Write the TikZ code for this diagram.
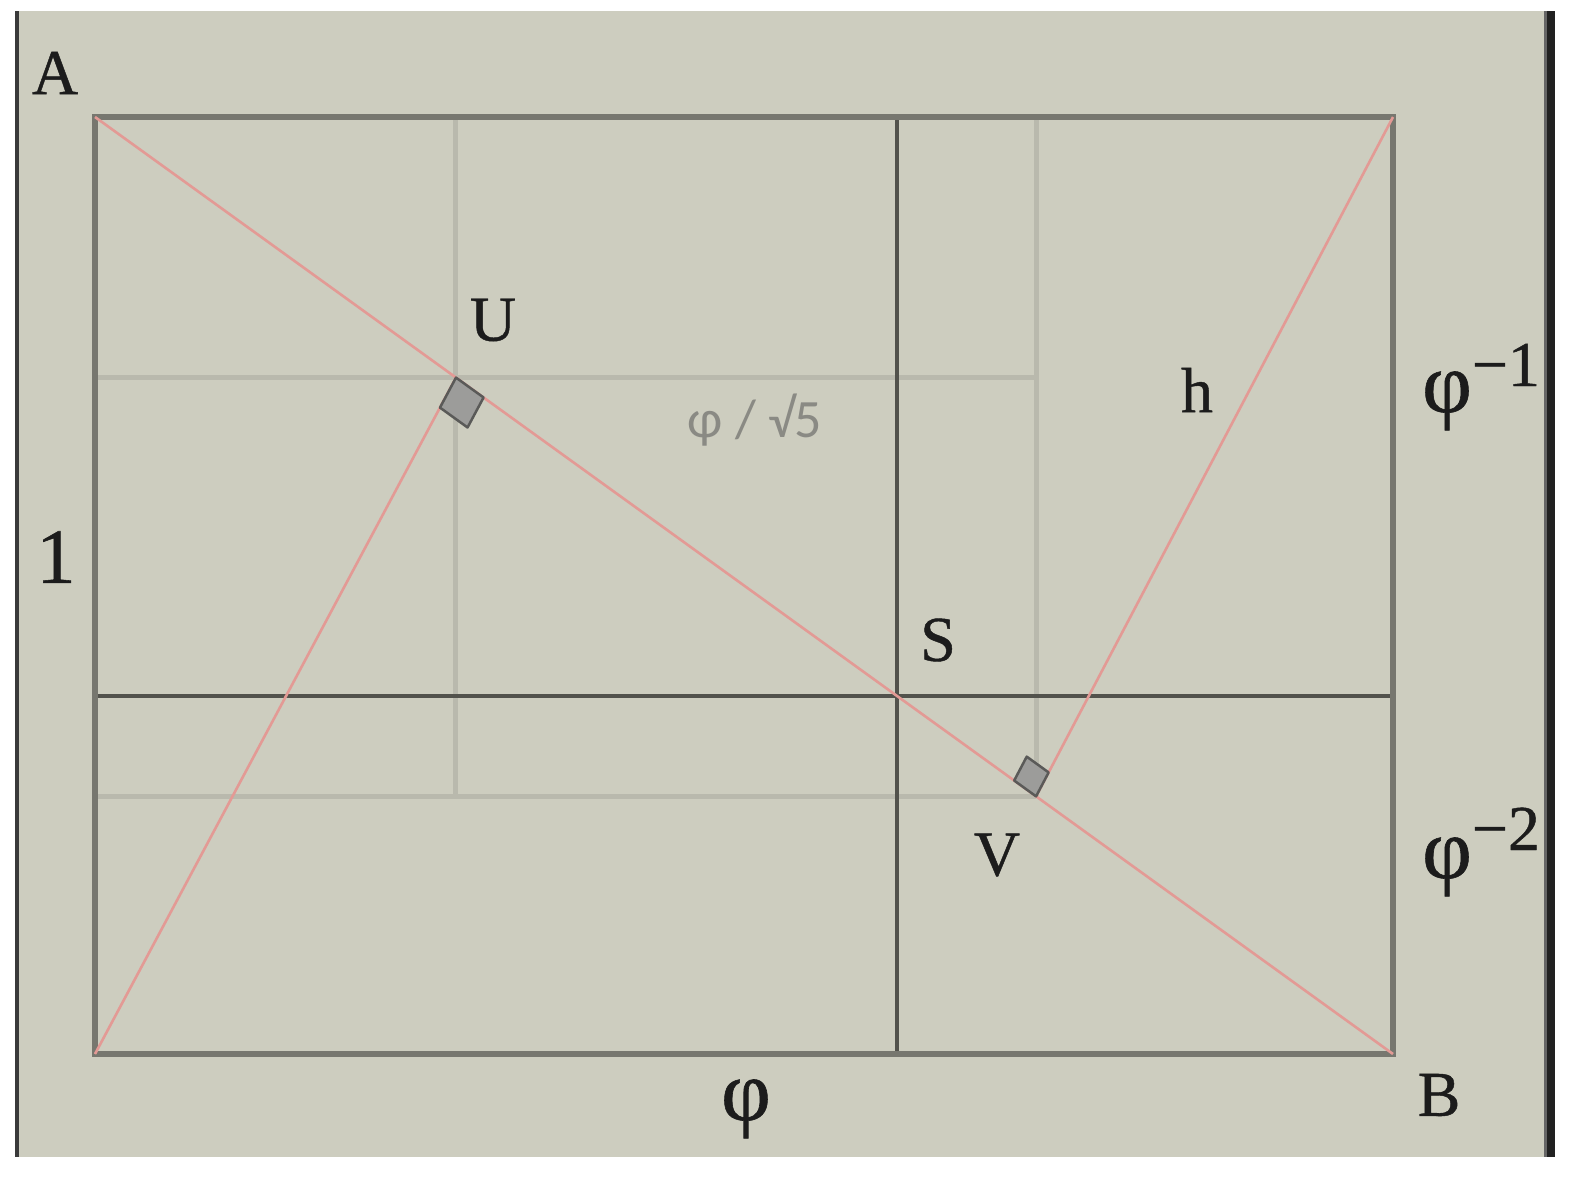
\documentclass[tikz,border=0pt]{standalone}
\usepackage{fontspec}
\setmainfont{Liberation Serif}
\newfontfamily\labfont{Liberation Serif}[FakeBold=0.7]
\newfontfamily\labsans{Carlito}
\usetikzlibrary{calc}
\definecolor{panel}{HTML}{CDCDBF}
\definecolor{frameline}{HTML}{77776F}
\definecolor{darkline}{HTML}{52524C}
\definecolor{lightline}{HTML}{B9B9AD}
\definecolor{redline}{HTML}{E39A95}
\definecolor{sqfill}{HTML}{9C9C9A}
\definecolor{sqdraw}{HTML}{5A5A58}
\definecolor{txt}{HTML}{1C1C1C}
\definecolor{graytxt}{HTML}{8A8A84}
\definecolor{leftborder}{HTML}{3A3A3A}
\tikzset{
  framestyle/.style={draw=frameline, line width=5.5pt},
  crossline/.style={draw=darkline, line width=4pt},
  guideline/.style={draw=lightline, line width=5pt},
  redstyle/.style={draw=redline, line width=2.6pt},
  anglebox/.style={fill=sqfill, draw=sqdraw, line width=2.5pt, line join=round},
  lbl/.style={inner sep=0pt, text=txt, font=\labfont\fontsize{64}{70}\selectfont},
  biglbl/.style={inner sep=0pt, text=txt, font=\labfont\fontsize{78}{84}\selectfont},
  philbl/.style={inner sep=0pt, text=txt, font=\labfont\fontsize{86}{90}\selectfont},
  graylbl/.style={inner sep=0pt, text=graytxt, font=\labsans\fontsize{54}{60}\selectfont}
}
\begin{document}
\begin{tikzpicture}[x=1pt,y=-1pt]
\useasboundingbox (0,0) rectangle (1570,1176);
\fill[white] (0,0) rectangle (1570,1176);
\fill[panel] (15,11) rectangle (1555,1157);
\fill[leftborder] (15,11) rectangle (19,1157);
\fill[black!60] (1544,11) rectangle (1547,1157);
\fill[black!87] (1547,11) rectangle (1555,1157);

% corners
\coordinate (TL) at (95,117);
\coordinate (TR) at (1393,117);
\coordinate (BL) at (95,1054);
\coordinate (BR) at (1393,1054);
\coordinate (S) at ($(TL)!0.6178!(BR)$);
\coordinate (U) at ($(TL)!0.2781!(BR)$);
\coordinate (V) at ($(TL)!0.7250!(BR)$);

% guide lines (light)
\draw[guideline] (TL -| U) -- (U |- V);
\draw[guideline] (TL -| V) -- (V);
\draw[guideline] (TL |- U) -- (V |- U);
\draw[guideline] (TL |- V) -- (V);

% dark cross through S
\draw[crossline] (TL -| S) -- (BL -| S);
\draw[crossline] (TL |- S) -- (TR |- S);

% outer frame
\draw[framestyle] (TL) rectangle (BR);

% red lines
\draw[redstyle] (TL) -- (BR);
\draw[redstyle] (BL) -- (U);
\draw[redstyle] (TR) -- (V);

% right-angle marks
\coordinate (u1) at ($(U)!34pt!(BR)$);
\coordinate (u2) at ($(U)!34pt!(BL)$);
\coordinate (u3) at ($(u1)+(u2)-(U)$);
\draw[anglebox] (U) -- (u1) -- (u3) -- (u2) -- cycle;
\coordinate (v1) at ($(V)!27pt!(TL)$);
\coordinate (v2) at ($(V)!27pt!(TR)$);
\coordinate (v3) at ($(v1)+(v2)-(V)$);
\draw[anglebox] (V) -- (v1) -- (v3) -- (v2) -- cycle;

% labels
\node[lbl] (lA) at (55,73) {A};
\node[lbl] (lU) at (493,320) {U};
\node[lbl] (lS) at (938,640) {S};
\node[lbl] (lV) at (997,855) {V};
\node[lbl] (lB) at (1439,1095) {B};
\node[lbl] (lh) at (1197,390) {h};
\node[biglbl] (l1) at (56,557) {1};
\node[philbl, anchor=base] (lphi) at (746,1120) {φ};
\node[philbl, anchor=base west] (lp1) at (1422,412) {φ\raisebox{26pt}{\fontsize{64}{70}\selectfont −1}};
\node[philbl, anchor=base west] (lp2) at (1422,878) {φ\raisebox{28pt}{\fontsize{64}{70}\selectfont −2}};
\node[graylbl] (lr) at (755,420) {φ / √5};
\end{tikzpicture}
\end{document}
